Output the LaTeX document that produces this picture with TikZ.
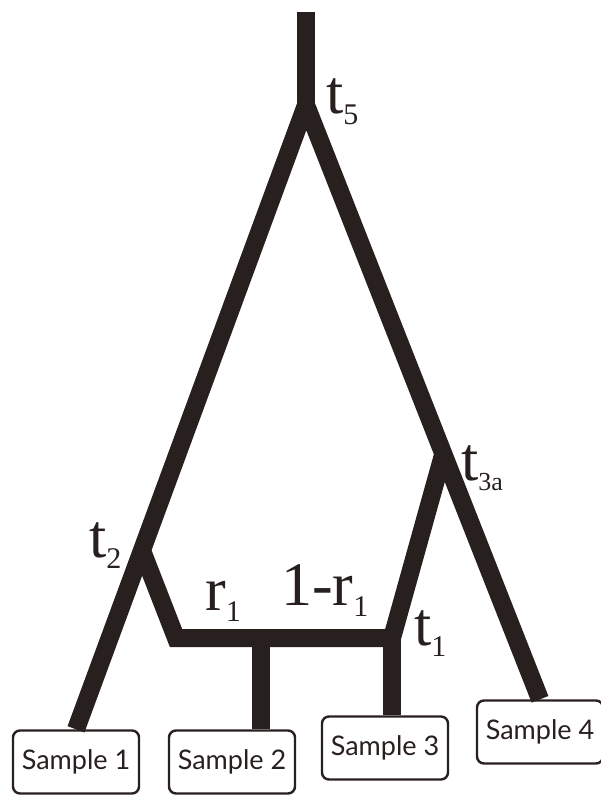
\documentclass[tikz,border=0pt]{standalone}
\usepackage{fontspec}
\setmainfont{Liberation Serif}
\newfontfamily\samplefont{Lato}
\definecolor{ink}{RGB}{40,32,30}
\newcommand\tsub[2]{#1\raisebox{-11pt}{\fontsize{30}{30}\selectfont #2}}
\newcommand\tsubsmall[2]{#1\raisebox{-10pt}{\fontsize{26}{26}\selectfont #2}}
\begin{document}
\begin{tikzpicture}[x=1pt,y=-1pt,
  branch/.style={draw=ink,line width=18pt,line join=miter},
  samplebox/.style={draw=ink,line width=2.4pt,rounded corners=7pt,fill=white,
    minimum width=126pt,minimum height=63pt,inner sep=0pt,
    font=\samplefont\fontsize{27}{27}\selectfont,text=ink},
  lab/.style={inner sep=0pt,anchor=base west,text=ink,font=\fontsize{62}{62}\selectfont}]
\useasboundingbox (0,0) rectangle (600,795);
% nodes
\coordinate (top) at (306,12);
\coordinate (t5) at (306,105);
\coordinate (t2) at (141,548);
\coordinate (t3a) at (443,455);
\coordinate (t1) at (392,638);
\coordinate (corner) at (176,638);
\coordinate (mid) at (261,638);
\node[samplebox] (s1) at (76,762) {Sample 1};
\node[samplebox] (s2) at (232,762) {Sample 2};
\node[samplebox] (s3) at (385,748) {Sample 3};
\node[samplebox] (s4) at (540,732) {Sample 4};
% connectors
\draw[branch] (top) -- (t5);
\draw[branch] (s1.north) -- (t5) -- (s4.north);
\draw[branch] (t2) -- (corner) -- (t1) -- (t3a);
\draw[branch] (mid) -- (mid |- s2.north);
\draw[branch] (t1) -- (t1 |- s3.north);
% labels
\node[lab] (lt5) at (326,113) {\tsub{t}{5}};
\node[lab] (lt3a) at (461,480) {\tsubsmall{t}{3a}};
\node[lab] (lt2) at (89,557) {\tsub{t}{2}};
\node[lab] (lr1) at (205,610) {\tsub{r}{1}};
\node[lab] (lr1b) at (281,605) {\tsub{1-r}{1}};
\node[lab] (lt1) at (414,645) {\tsub{t}{1}};
\end{tikzpicture}
\end{document}
